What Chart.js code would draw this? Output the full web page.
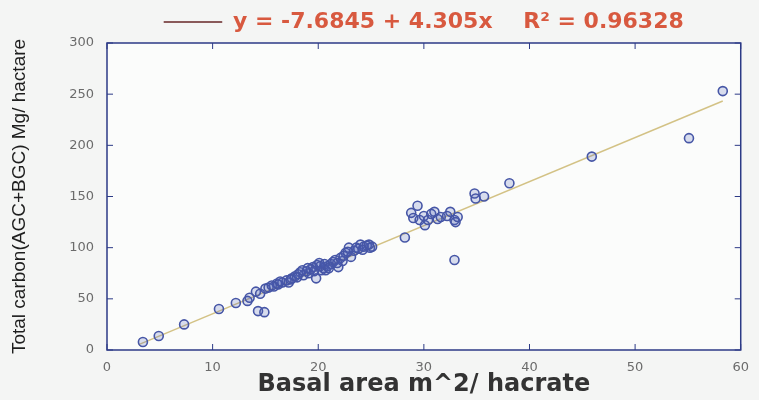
<!DOCTYPE html>
<html>
<head>
<meta charset="utf-8">
<script src="https://cdn.jsdelivr.net/npm/chart.js@4.4.1/dist/chart.umd.min.js"></script>
<style>
  html, body { margin: 0; padding: 0; background: #f4f5f4; }
  #wrap { width: 759px; height: 400px; }
</style>
</head>
<body>
<div id="wrap"><canvas id="chart" width="759" height="400"></canvas></div>
<script>
// DATOS
const basalArea = [
  3.4, 4.9, 7.3, 10.6, 12.2, 13.3, 13.5, 14.1, 14.5, 15.0,
  14.3, 14.9, 15.3, 15.8, 16.1, 16.2, 16.6, 17.0, 17.2, 17.5,
  17.8, 18.1, 18.3, 18.6, 18.9, 19.1, 19.3, 19.5, 19.8, 19.9,
  20.1, 20.3, 20.5, 20.7, 20.9, 21.2, 21.4, 21.6, 21.9, 22.1,
  22.3, 22.6, 22.9, 23.1, 23.4, 23.8, 24.0, 24.3, 24.6, 24.9,
  25.1, 15.6, 16.4, 17.4, 18.0, 18.5, 19.0, 19.6, 20.2, 20.6,
  21.0, 21.8, 22.4, 22.8, 23.6, 24.2, 24.8,
  28.2, 28.8, 29.0, 29.4, 29.6, 30.0, 30.1, 30.4, 30.7, 31.0,
  31.3, 31.6, 32.2, 32.5, 32.9, 33.0, 33.2, 32.9, 34.8, 34.9,
  35.7, 38.1, 45.9, 55.1, 58.3
];
const totalCarbon = [
  7.8, 13.7, 25, 40, 46, 48, 51, 57, 55, 60,
  38, 37, 61, 62, 65, 64, 66, 68, 66, 70,
  72, 74, 76, 73, 77, 75, 79, 81, 70, 83,
  85, 78, 80, 78, 82, 84, 86, 88, 81, 90,
  87, 95, 100, 91, 97, 99, 103, 101, 102, 100,
  101, 63, 67, 69, 71, 78, 80, 77, 82, 84,
  80, 85, 92, 96, 100, 98, 103,
  110, 134, 129, 141, 127, 131, 122, 127, 133, 135,
  128, 130, 131, 135, 127, 125, 130, 88, 153, 148,
  150, 163, 189, 207, 253
];
const fitX = [3, 58.3];
const fitY = [5.2, 243.3];
const xTicks = [0, 10, 20, 30, 40, 50, 60];
const yTicks = [0, 50, 100, 150, 200, 250, 300];
const fitLabel = "y = -7.6845 + 4.305x    R\u00B2 = 0.96328";

const puntos = basalArea.map((x, i) => ({ x: x, y: totalCarbon[i] }));
const linea = fitX.map((x, i) => ({ x: x, y: fitY[i] }));

const frameColor = "#2c3a86";
const rojo = "#d8593f";

// marco + ticks hacia adentro (estilo matlab)
const marco = {
  id: "marco",
  beforeDatasetsDraw(chart) {
    const { ctx, chartArea: a } = chart;
    ctx.save();
    ctx.fillStyle = "#fbfcfb";
    ctx.fillRect(a.left, a.top, a.right - a.left, a.bottom - a.top);
    ctx.restore();
  },
  afterDatasetsDraw(chart) {
    const { ctx, chartArea: a, scales } = chart;
    ctx.save();
    ctx.strokeStyle = frameColor;
    ctx.lineWidth = 1.5;
    ctx.strokeRect(a.left, a.top, a.right - a.left, a.bottom - a.top);
    ctx.lineWidth = 1;
    ctx.beginPath();
    xTicks.forEach((v) => {
      const px = scales.x.getPixelForValue(v);
      ctx.moveTo(px, a.bottom);
      ctx.lineTo(px, a.bottom - 6);
      ctx.moveTo(px, a.top);
      ctx.lineTo(px, a.top + 6);
    });
    yTicks.forEach((v) => {
      const py = scales.y.getPixelForValue(v);
      ctx.moveTo(a.left, py);
      ctx.lineTo(a.left + 6, py);
      ctx.moveTo(a.right, py);
      ctx.lineTo(a.right - 6, py);
    });
    ctx.stroke();
    ctx.restore();
  },
};

new Chart(document.getElementById("chart"), {
  type: "scatter",
  data: {
    datasets: [
      {
        label: fitLabel,
        type: "line",
        data: linea,
        borderColor: "#d3c285",
        borderWidth: 1.5,
        pointRadius: 0,
        fill: false,
        order: 2,
      },
      {
        label: "datos",
        data: puntos,
        pointRadius: 4.5,
        pointHoverRadius: 4.5,
        pointBorderWidth: 1.6,
        borderColor: "#4656a6",
        backgroundColor: "rgba(75,95,185,0.2)",
        order: 1,
      },
    ],
  },
  options: {
    responsive: false,
    animation: false,
    layout: { padding: { left: 0, right: 15, top: 0, bottom: 0 } },
    plugins: {
      tooltip: { enabled: false },
      legend: {
        display: true,
        position: "top",
        fullSize: false,
        labels: {
          color: rojo,
          font: { family: "DejaVu Sans", size: 22, weight: "bold" },
          boxWidth: 58,
          boxHeight: 1,
          padding: 11,
          generateLabels: () => [
            {
              text: fitLabel,
              fontColor: rojo,
              fillStyle: "#8a5a5a",
              strokeStyle: "#8a5a5a",
              lineWidth: 1,
              datasetIndex: 0,
            },
          ],
        },
      },
    },
    scales: {
      x: {
        type: "linear",
        min: 0,
        max: 60,
        afterFit: (s) => { s.height = 50; },
        afterBuildTicks: (s) => { s.ticks = xTicks.map((v) => ({ value: v })); },
        grid: { display: false, drawTicks: false },
        border: { display: false },
        ticks: {
          padding: 10,
          color: "#6b6b6b",
          font: { family: "DejaVu Sans", size: 13 },
        },
        title: {
          display: true,
          text: "Basal area m^2/ hacrate",
          color: "#333333",
          font: { family: "DejaVu Sans", size: 24, weight: "bold" },
          padding: { top: 0, bottom: 1 },
        },
      },
      y: {
        type: "linear",
        min: 0,
        max: 300,
        afterFit: (s) => { s.width = 107; },
        afterBuildTicks: (s) => { s.ticks = yTicks.map((v) => ({ value: v })); },
        grid: { display: false, drawTicks: false },
        border: { display: false },
        ticks: {
          padding: 13,
          color: "#6b6b6b",
          font: { family: "DejaVu Sans", size: 13 },
        },
        title: {
          display: true,
          text: "Total carbon(AGC+BGC) Mg/ hactare",
          color: "#1e1e1e",
          font: { family: "Liberation Sans", size: 19 },
          padding: { top: 8, bottom: 0 },
        },
      },
    },
  },
  plugins: [marco],
});
</script>
</body>
</html>
